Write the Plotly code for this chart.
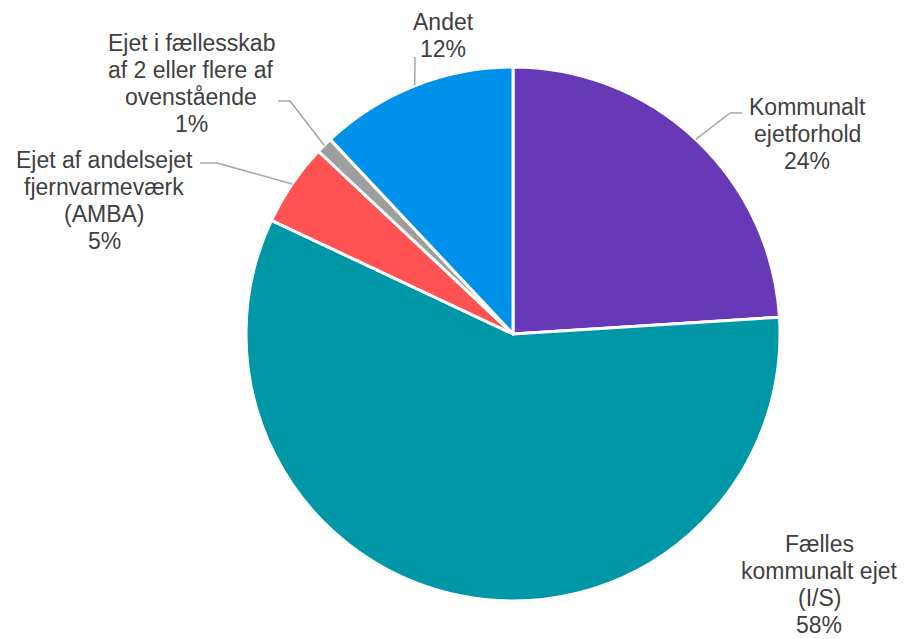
import math
import plotly.graph_objects as go

# ---- data ----
categories = [
    "Kommunalt\nejetforhold",
    "Fælles\nkommunalt ejet\n(I/S)",
    "Ejet af andelsejet\nfjernvarmeværk\n(AMBA)",
    "Ejet i fællesskab\naf 2 eller flere af\novenstående",
    "Andet",
]
values = [24, 58, 5, 1, 12]
colors = ["#6739B6", "#0097A7", "#FF5252", "#9E9E9E", "#0091EA"]

# ---- layout constants (pixels) ----
W, H = 905, 639
CX, CY, R = 513, 334, 267
FONT = dict(family="Liberation Sans, Arial, sans-serif", size=23, color="#404040")
LINE_H = 27
# label block: (center x, y of first line), leader elbow (x, y) and end x (None = no leader)
label_pos = [
    (807, 107, (730, 113), 742),
    (819, 544, None, None),
    (104, 160, (217, 163), 200),
    (191, 43, (290, 101), 278),
    (443, 22, (415, 57), None),
]

def px(x):
    return x / W

def py(y):
    return 1 - y / H

fig = go.Figure(go.Pie(
    labels=[c.replace("\n", " ") for c in categories],
    values=values,
    sort=False,
    direction="clockwise",
    rotation=0,
    marker=dict(colors=colors, line=dict(color="white", width=3)),
    textinfo="none",
    hoverinfo="label+percent",
    showlegend=False,
    domain=dict(x=[px(CX - R), px(CX + R)], y=[py(CY + R), py(CY - R)]),
))

total = sum(values)
annotations = []
shapes = []
cum = 0
for cat, v, (lx, ly, elbow, endx) in zip(categories, values, label_pos):
    mid = (cum + v / 2) / total * 2 * math.pi
    cum += v
    pct = f"{round(v / total * 100)}%"
    lines = cat.split("\n") + [pct]
    for i, t in enumerate(lines):
        annotations.append(dict(
            x=px(lx), y=py(ly + i * LINE_H), xref="paper", yref="paper",
            text=t, showarrow=False, xanchor="center", yanchor="middle",
            font=FONT,
        ))
    if elbow is not None:
        sx = CX + R * math.sin(mid)
        sy = CY - R * math.cos(mid)
        pts = [(sx, sy), elbow]
        if endx is not None:
            pts.append((endx, elbow[1]))
        for (x0, y0), (x1, y1) in zip(pts[:-1], pts[1:]):
            shapes.append(dict(
                type="line", xref="paper", yref="paper",
                x0=px(x0), y0=py(y0), x1=px(x1), y1=py(y1),
                line=dict(color="#A6A6A6", width=1.5),
            ))

fig.update_layout(
    width=W, height=H,
    margin=dict(l=0, r=0, t=0, b=0),
    paper_bgcolor="white",
    plot_bgcolor="white",
    annotations=annotations,
    shapes=shapes,
)

fig.write_html(
    "out.html",
    config={"displayModeBar": False},
    post_script="document.body.style.margin='0';document.body.style.overflow='hidden';",
)
